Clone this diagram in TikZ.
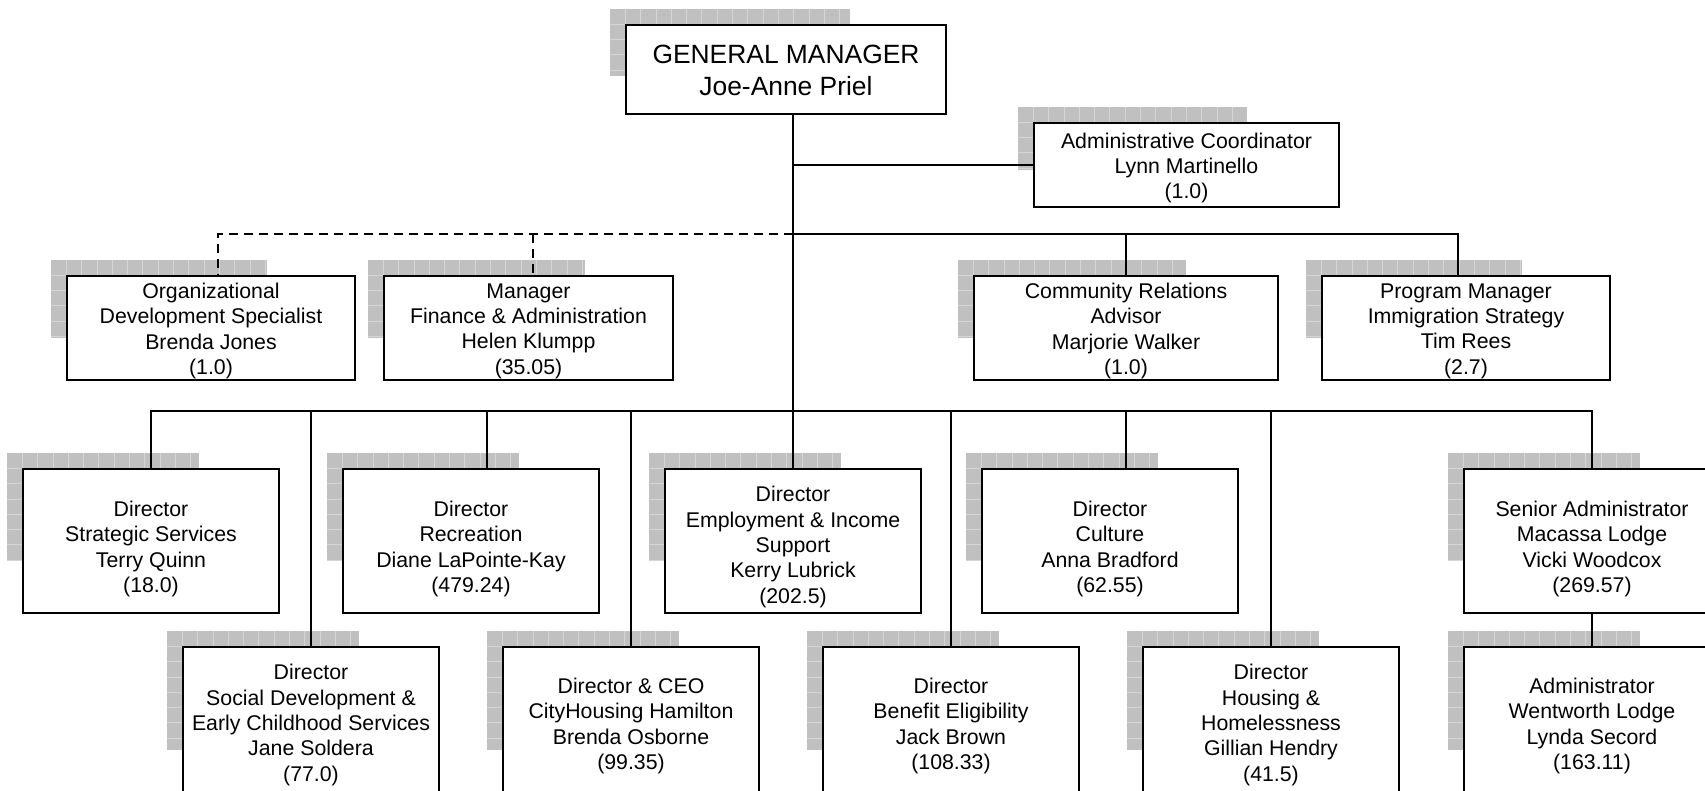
\documentclass[tikz,border=0pt]{standalone}
\usepackage{fontspec}
\setmainfont{Liberation Sans}
\usetikzlibrary{calc}
\definecolor{gridfill}{RGB}{192,192,192}
\definecolor{gridline}{RGB}{214,214,214}
\tikzset{
 obox/.style={draw=black, line width=2pt, fill=white, inner sep=0pt, outer sep=0pt, anchor=north west},
 otext/.style={align=center, inner sep=0pt, font=\fontsize{21.3}{25.3}\selectfont},
 gmfont/.style={font=\fontsize{26.4}{31.5}\selectfont},
 conn/.style={draw=black, line width=2pt},
 dconn/.style={conn, dash pattern=on 9pt off 6pt},
 gline/.style={draw=gridline, line width=0.8pt},
}
\newcommand\orgshadow[4]{%
 \begin{scope}
 \clip ({#1-16},{#2-16}) rectangle ++({0.75*#3},{0.75*#4});
 \fill[gridfill] ({#1-16},{#2-16}) rectangle ++({0.75*#3},{0.75*#4});
 \foreach \k in {1,...,20}{
   \draw[gline] ({#1-16+\k*15.3},{#2-16}) -- ++(0,{0.75*#4});
   \draw[gline] ({#1-16},{#2-16+\k*15.3}) -- ++({0.75*#3},0);
 }
 \end{scope}}
% [text options]{name}{x}{y}{w}{h}{vertical text offset}{text}
\newcommand\orgbox[8][]{%
 \orgshadow{#3}{#4}{#5}{#6}
 \node[obox, minimum width=#5pt, minimum height=#6pt] (#2) at (#3,#4) {};
 \node[otext, #1] (#2-t) at ($(#2.center)+(0,#7)$) {#8};}
\begin{document}
\begin{tikzpicture}[x=1pt,y=-1pt]
\useasboundingbox (0,0) rectangle (1705,791);
\fill[white] (0,0) rectangle (1705,791);
\clip (0,0) rectangle (1705,791);
% top
\orgbox[gmfont]{gm}{626}{25}{320}{89}{1}{GENERAL MANAGER\\Joe-Anne Priel}
\orgbox{admin}{1034}{123}{305}{84}{3}{Administrative Coordinator\\Lynn Martinello\\(1.0)}
% second level
\orgbox{org}{67}{276}{288}{104}{3}{Organizational\\Development Specialist\\Brenda Jones\\(1.0)}
\orgbox{fin}{384}{276}{289}{104}{3}{Manager\\Finance \& Administration\\Helen Klumpp\\(35.05)}
\orgbox{comm}{974}{276}{304}{104}{3}{Community Relations\\Advisor\\Marjorie Walker\\(1.0)}
\orgbox{prog}{1322}{276}{288}{104}{3}{Program Manager\\Immigration Strategy\\Tim Rees\\(2.7)}
% directors row 1
\orgbox{strat}{23}{469}{256}{144}{8}{Director\\Strategic Services\\Terry Quinn\\(18.0)}
\orgbox{rec}{343}{469}{256}{144}{8}{Director\\Recreation\\Diane LaPointe-Kay\\(479.24)}
\orgbox{emp}{665}{469}{256}{144}{6}{Director\\Employment \& Income\\Support\\Kerry Lubrick\\(202.5)}
\orgbox{cult}{982}{469}{256}{144}{8}{Director\\Culture\\Anna Bradford\\(62.55)}
\orgbox{sen}{1464}{469}{256}{144}{8}{Senior Administrator\\Macassa Lodge\\Vicki Woodcox\\(269.57)}
% directors row 2
\orgbox{soc}{183}{647}{256}{158}{-1}{Director\\Social Development \&\\Early Childhood Services\\Jane Soldera\\(77.0)}
\orgbox{city}{503}{647}{256}{158}{0}{Director \& CEO\\CityHousing Hamilton\\Brenda Osborne\\(99.35)}
\orgbox{ben}{823}{647}{256}{158}{0}{Director\\Benefit Eligibility\\Jack Brown\\(108.33)}
\orgbox{hous}{1143}{647}{256}{158}{-1}{Director\\Housing \&\\Homelessness\\Gillian Hendry\\(41.5)}
\orgbox{went}{1464}{647}{256}{158}{0}{Administrator\\Wentworth Lodge\\Lynda Secord\\(163.11)}
% junctions
\coordinate (ja) at (793,165);
\coordinate (j1) at (793,234);
\coordinate (jo) at (218,234);
\coordinate (jf) at (533,234);
\coordinate (jp) at (1458,234);
\coordinate (jd) at (793,411);
\coordinate (jr) at (487,411);
\coordinate (jc) at (1126,411);
% connectors
\draw[conn] (gm.south -| emp.north) -- (emp.north);
\draw[conn] (ja) -- (admin.west);
\draw[dconn] (j1) -- (jo) -- (jo |- org.north);
\draw[dconn] (jf) -- (jf |- fin.north);
\draw[conn] (j1) -- (jp) -- (jp |- prog.north);
\draw[conn] (j1 -| comm.north) -- (comm.north);
\draw[conn] (strat.north) -- (strat.north |- jd) -- (sen.north |- jd) -- (sen.north);
\draw[conn] (jd -| soc.north) -- (soc.north);
\draw[conn] (jr) -- (jr |- rec.north);
\draw[conn] (jd -| city.north) -- (city.north);
\draw[conn] (jd -| ben.north) -- (ben.north);
\draw[conn] (jc) -- (jc |- cult.north);
\draw[conn] (jd -| hous.north) -- (hous.north);
\draw[conn] (sen.south) -- (went.north);
\end{tikzpicture}
\end{document}
